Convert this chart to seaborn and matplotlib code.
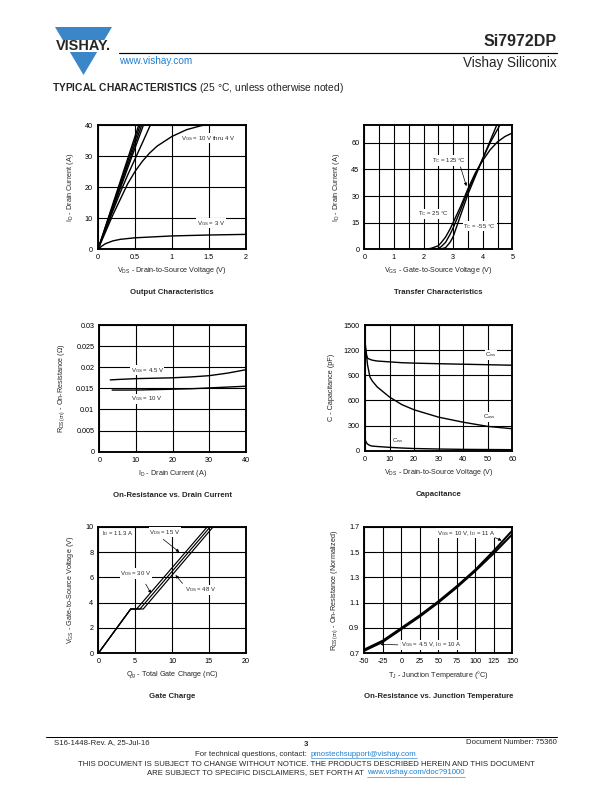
import matplotlib
matplotlib.use("Agg")
import matplotlib.pyplot as plt
from matplotlib.patches import Polygon, Rectangle
import seaborn as sns

# ---- data ----
# output characteristics
vds_lin = [0, 0.2, 0.4, 0.6, 0.8]
id_10v = [0, 14.5, 29, 43.5, 58]
id_8v = [0, 14, 28, 42, 56]
id_6v = [0, 13.5, 27, 40.5, 54]
id_5v = [0, 13, 26, 39, 52]
vds_4v = [0, 0.1, 0.2, 0.3, 0.4, 0.5, 0.6, 0.7, 0.8]
id_4v = [0, 6.2, 12.3, 18.2, 23.8, 29.0, 34.2, 39.5, 44.0]
vds_sat = [0, 0.1, 0.2, 0.3, 0.4, 0.5, 0.6, 0.7, 0.8, 1.0, 1.2, 1.4, 1.6]
id_sat = [0, 5.5, 11, 16, 21, 25, 28.3, 31, 33.2, 36.3, 38.5, 39.8, 40.5]
vds_3v = [0, 0.05, 0.1, 0.2, 0.3, 0.5, 0.75, 1.0, 1.5, 2.0]
id_3v = [0, 1.0, 1.8, 2.7, 3.2, 3.7, 4.0, 4.3, 4.6, 4.8]

# transfer characteristics
vgs_t = [2.0, 2.25, 2.5, 2.6, 2.75, 2.9, 3.0, 3.25, 3.5, 3.75, 4.0, 4.25, 4.5, 4.75, 5.0]
id_125c = [0, 0.5, 2, 3.8, 7, 11.5, 15, 24, 34, 43, 50, 56, 60.5, 63.5, 65.5]
id_25c = [0, 0, 0.5, 1.5, 4, 8.5, 12, 22, 33, 42, 51, 60, 67.5, 75, 82]
id_m55c = [0, 0, 0, 0.2, 1, 4, 7, 19, 31, 41, 51, 61, 71, 81, 91]

# on-resistance vs drain current
id_r = [3, 5, 10, 15, 20, 25, 30, 35, 40]
rds_45v = [0.0170, 0.0171, 0.0173, 0.0174, 0.0175, 0.0177, 0.0180, 0.0186, 0.0194]
rds_10v = [0.0146, 0.0146, 0.0146, 0.0147, 0.0148, 0.0149, 0.0151, 0.0153, 0.0155]

# capacitance
vds_c = [0, 0.5, 1, 2, 3, 5, 7.5, 10, 15, 20, 30, 40, 50, 60]
c_iss = [1250, 1150, 1105, 1090, 1080, 1070, 1065, 1060, 1050, 1045, 1038, 1032, 1026, 1020]
c_oss = [1300, 1180, 1030, 880, 830, 760, 700, 640, 550, 488, 400, 340, 290, 262]
c_rss = [135, 100, 80, 62, 55, 50, 45, 40, 32, 26, 20, 16, 14, 12]

# gate charge
qg_15v = [0, 4.4, 5.2, 14.8]
qg_30v = [0, 4.4, 5.65, 15.2]
qg_48v = [0, 4.4, 6.1, 15.6]
vgs_qg = [0, 3.5, 3.5, 10]

# on-resistance vs junction temperature
tj = [-50, -25, 0, 25, 50, 75, 100, 125, 150]
rn_10v = [0.73, 0.80, 0.90, 1.00, 1.11, 1.23, 1.36, 1.51, 1.67]
rn_45v = [0.72, 0.79, 0.89, 0.99, 1.10, 1.22, 1.35, 1.49, 1.64]

sns.set_style("white")
plt.rcParams['font.family'] = ['Liberation Sans', 'DejaVu Sans']
plt.rcParams['mathtext.fontset'] = 'custom'
plt.rcParams['mathtext.rm'] = 'Liberation Sans'
plt.rcParams['mathtext.it'] = 'Liberation Sans:italic'
plt.rcParams['mathtext.bf'] = 'Liberation Sans:bold'
plt.rcParams['axes.unicode_minus'] = False

W, H = 612, 792
fig = plt.figure(figsize=(W / 72, H / 72), dpi=72)
BLUE = '#3b86c8'
LINK = '#1f7fcf'
FS = 7.2


def make_axes(l, t, r, b, xlim, ylim, xticks, yticks, xlabels=None, ylabels=None,
              xminor=None):
    ax = fig.add_axes([l / W, 1 - b / H, (r - l) / W, (b - t) / H])
    ax.set_xlim(*xlim)
    ax.set_ylim(*ylim)
    ax.set_xticks(xticks)
    ax.set_yticks(yticks)
    if xlabels is not None:
        ax.set_xticklabels(xlabels)
    if ylabels is not None:
        ax.set_yticklabels(ylabels)
    if xminor is not None:
        ax.set_xticks(xminor, minor=True)
    ax.grid(True, which='both', color='black', lw=1.1)
    ax.tick_params(which='both', length=0, labelsize=FS, pad=5, colors='black')
    for s in ax.spines.values():
        s.set_visible(True)
        s.set_color('black')
        s.set_linewidth(1.9)
    ax.set_axisbelow(True)
    return ax


def curve(ax, x, y, lw=1.4):
    sns.lineplot(x=x, y=y, ax=ax, color='black', lw=lw, sort=False, estimator=None)


def label(ax, x, y, s, ha='left'):
    ax.text(x, y, s, fontsize=6.0, ha=ha, va='center', zorder=5,
            bbox=dict(facecolor='white', edgecolor='none', pad=0.6))


def arrow(ax, xy, xytext):
    ax.annotate('', xy=xy, xytext=xytext, zorder=6,
                arrowprops=dict(arrowstyle='-|>', color='black', lw=0.7,
                                mutation_scale=6))


def names(ax, xl, yl, cap):
    ax.set_xlabel(xl, fontsize=FS, labelpad=4)
    ax.set_ylabel(yl, fontsize=FS, labelpad=9)
    ax.text(0.5, -0.345, cap, transform=ax.transAxes, ha='center', va='center',
            fontsize=7.8, fontweight='bold')


# 1 output characteristics
ax1 = make_axes(98, 125, 245.7, 249.3, (0, 2), (0, 40), [0, 0.5, 1, 1.5, 2],
                [0, 10, 20, 30, 40], ['0', '0.5', '1', '1.5', '2'])
for ys in (id_10v, id_8v, id_6v, id_5v):
    curve(ax1, vds_lin, ys)
curve(ax1, vds_4v, id_4v)
curve(ax1, vds_sat, id_sat)
curve(ax1, vds_3v, id_3v)
label(ax1, 1.13, 35.7, r'V$_{\rm GS}$ = 10 V thru 4 V')
label(ax1, 1.34, 8.4, r'V$_{\rm GS}$ = 3 V')
names(ax1, r'V$_{\rm DS}$ - Drain-to-Source Voltage (V)', r'I$_{\rm D}$ - Drain Current (A)',
      'Output Characteristics')

# 2 transfer characteristics
ax2 = make_axes(364.3, 125, 512.3, 249.3, (0, 5), (0, 70), [0, 1, 2, 3, 4, 5],
                [0, 15, 30, 45, 60], xminor=[0.5, 1.5, 2.5, 3.5, 4.5])
curve(ax2, vgs_t, id_125c)
curve(ax2, vgs_t, id_25c)
curve(ax2, vgs_t, id_m55c)
label(ax2, 2.3, 50, r'T$_{\rm C}$ = 125 °C')
arrow(ax2, (3.47, 34.5), (3.23, 47.5))
label(ax2, 1.8, 20, r'T$_{\rm C}$ = 25 °C')
label(ax2, 3.35, 13, r'T$_{\rm C}$ = -55 °C')
names(ax2, r'V$_{\rm GS}$ - Gate-to-Source Voltage (V)', r'I$_{\rm D}$ - Drain Current (A)',
      'Transfer Characteristics')

# 3 on-resistance vs drain current
ax3 = make_axes(99.3, 325, 245.7, 451.7, (0, 40), (0, 0.03), [0, 10, 20, 30, 40],
                [0, 0.005, 0.01, 0.015, 0.02, 0.025, 0.03],
                ylabels=['0', '0.005', '0.01', '0.015', '0.02', '0.025', '0.03'])
curve(ax3, id_r, rds_45v)
curve(ax3, [3.5] + id_r[1:], rds_10v)
label(ax3, 8.6, 0.0193, r'V$_{\rm GS}$ = 4.5 V')
label(ax3, 8.6, 0.0125, r'V$_{\rm GS}$ = 10 V')
names(ax3, r'I$_{\rm D}$ - Drain Current (A)', r'R$_{\rm DS(on)}$ - On-Resistance (Ω)',
      'On-Resistance vs. Drain Current')

# 4 capacitance
ax4 = make_axes(365, 325, 512.3, 450.7, (0, 60), (0, 1500), [0, 10, 20, 30, 40, 50, 60],
                [0, 300, 600, 900, 1200, 1500])
curve(ax4, vds_c, c_iss)
curve(ax4, vds_c, c_oss)
curve(ax4, vds_c, c_rss)
label(ax4, 49, 1142, r'C$_{\rm iss}$')
label(ax4, 48, 406, r'C$_{\rm oss}$')
label(ax4, 11, 127, r'C$_{\rm rss}$')
names(ax4, r'V$_{\rm DS}$ - Drain-to-Source Voltage (V)', 'C - Capacitance (pF)', 'Capacitance')

# 5 gate charge
ax5 = make_axes(98.3, 526.7, 245.7, 653.3, (0, 20), (0, 10), [0, 5, 10, 15, 20],
                [0, 2, 4, 6, 8, 10])
curve(ax5, qg_15v, vgs_qg, lw=1.2)
curve(ax5, qg_30v, vgs_qg, lw=1.2)
curve(ax5, qg_48v, vgs_qg, lw=1.2)
label(ax5, 0.5, 9.45, r'I$_{\rm D}$ = 11.3 A')
label(ax5, 6.9, 9.55, r'V$_{\rm DS}$ = 15 V')
arrow(ax5, (11.2, 7.9), (8.6, 9.1))
label(ax5, 3.0, 6.3, r'V$_{\rm DS}$ = 30 V')
arrow(ax5, (7.3, 4.6), (6.3, 5.6))
label(ax5, 11.8, 5.0, r'V$_{\rm DS}$ = 48 V')
arrow(ax5, (10.3, 6.3), (11.6, 5.4))
names(ax5, r'Q$_{\rm g}$ - Total Gate Charge (nC)', r'V$_{\rm GS}$ - Gate-to-Source Voltage (V)',
      'Gate Charge')

# 6 on-resistance vs junction temperature
ax6 = make_axes(364.3, 526.7, 512.3, 653.3, (-50, 150), (0.7, 1.7),
                [-50, -25, 0, 25, 50, 75, 100, 125, 150], [0.7, 0.9, 1.1, 1.3, 1.5, 1.7],
                ylabels=['0.7', '0.9', '1.1', '1.3', '1.5', '1.7'])
curve(ax6, tj, rn_10v, lw=2.0)
curve(ax6, tj, rn_45v, lw=2.0)
label(ax6, 48, 1.647, r'V$_{\rm GS}$ = 10 V, I$_{\rm D}$ = 11 A')
arrow(ax6, (138, 1.585), (124, 1.62))
label(ax6, 0, 0.766, r'V$_{\rm GS}$ = 4.5 V, I$_{\rm D}$ = 10 A')
arrow(ax6, (-31, 0.772), (-2, 0.766))
names(ax6, r'T$_{\rm J}$ - Junction Temperature (°C)',
      r'R$_{\rm DS(on)}$ - On-Resistance (Normalized)',
      'On-Resistance vs. Junction Temperature')

# ---- page decoration: header, logo, footer ----
page = fig.add_axes([0, 0, 1, 1], zorder=-1)
page.set_xlim(0, W)
page.set_ylim(H, 0)
page.axis('off')

page.add_patch(Polygon([(55, 27), (112, 27), (83.5, 75)], closed=True, color=BLUE, lw=0))
page.add_patch(Rectangle((50, 40), 67, 12, color='white', lw=0))
page.text(83.5, 46.3, 'VISHAY.', fontsize=14.5, fontweight='bold', ha='center', va='center')
page.plot([119, 557], [53, 53], color='black', lw=1.2)
page.text(119, 60.5, 'www.vishay.com', fontsize=10, color=LINK, va='center')
page.text(557, 42, 'Si7972DP', fontsize=16, fontweight='bold', ha='right', va='center')
page.text(557, 63, 'Vishay Siliconix', fontsize=13.5, ha='right', va='center')
page.text(52, 88, r'$\bf{TYPICAL\ CHARACTERISTICS}$ (25 °C, unless otherwise noted)',
          fontsize=10.2, va='center')

FF = 7.8
page.plot([46, 557], [737, 737], color='black', lw=1.0)
page.text(54, 743, 'S16-1448-Rev. A, 25-Jul-16', fontsize=FF, va='center')
page.text(306, 744, '3', fontsize=FF, fontweight='bold', ha='center', va='center')
page.text(557, 743, 'Document Number: 75360', fontsize=FF, ha='right', va='center')
page.text(309, 754, 'For technical questions, contact: ', fontsize=FF, ha='right', va='center')
link1 = page.text(311, 754, 'pmostechsupport@vishay.com', fontsize=FF, color=LINK, va='center')
page.text(306, 764, 'THIS DOCUMENT IS SUBJECT TO CHANGE WITHOUT NOTICE. THE PRODUCTS DESCRIBED '
          'HEREIN AND THIS DOCUMENT', fontsize=FF, ha='center', va='center')
page.text(366, 773, 'ARE SUBJECT TO SPECIFIC DISCLAIMERS, SET FORTH AT ', fontsize=FF,
          ha='right', va='center')
link2 = page.text(367, 773, 'www.vishay.com/doc?91000', fontsize=FF, color=LINK, va='center')

# underline the two footer links
fig.canvas.draw()
inv = page.transData.inverted()
for t in (link1, link2):
    bb = t.get_window_extent()
    (x0, y0), (x1, y1) = inv.transform([(bb.x0, bb.y0), (bb.x1, bb.y1)])
    page.plot([x0, x1], [y0 + 0.3, y0 + 0.3], color=LINK, lw=0.6)

fig.savefig('out.png', dpi=72)
